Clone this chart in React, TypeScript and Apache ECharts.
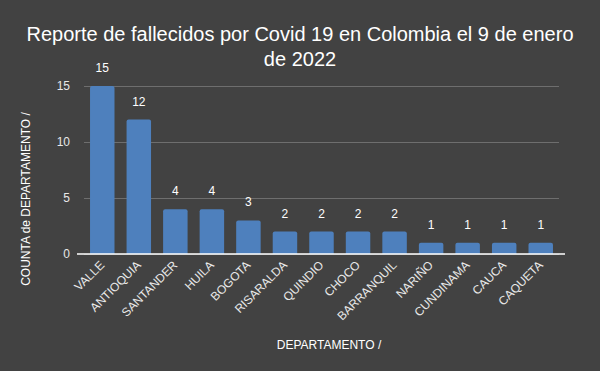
import React, { useEffect, useRef } from "react";
import * as echarts from "echarts";

const categories = ["VALLE", "ANTIOQUIA", "SANTANDER", "HUILA", "BOGOTA", "RISARALDA", "QUINDIO", "CHOCO", "BARRANQUIL", "NARIÑO", "CUNDINAMA", "CAUCA", "CAQUETA"];
const values = [15, 12, 4, 4, 3, 2, 2, 2, 2, 1, 1, 1, 1];
const yTitle = "COUNTA de DEPARTAMENTO /";
const xTitle = "DEPARTAMENTO /";

const FONT = "'Liberation Sans', Arial, sans-serif";

export default function App() {
  const ref = useRef<HTMLDivElement>(null);
  useEffect(() => {
    const chart = echarts.init(ref.current!, null, { renderer: "svg" });
    chart.setOption({
      animation: false,
      backgroundColor: "#424242",
      title: {
        text: "Reporte de fallecidos por Covid 19 en Colombia el 9 de enero\nde 2022",
        left: "center",
        top: 16,
        textStyle: { color: "#ffffff", fontSize: 20, fontWeight: "normal", fontFamily: FONT, lineHeight: 25 },
      },
      grid: { left: 84, right: 41, top: 86, bottom: 117, containLabel: false },
      graphic: [
        {
          type: "line",
          shape: { x1: 77, y1: 254, x2: 565, y2: 254 },
          style: { stroke: "#ffffff", lineWidth: 1.5 },
          z: 10,
        },
        {
          type: "text",
          x: 26,
          y: 199,
          rotation: Math.PI / 2,
          style: { text: yTitle, fill: "#ffffff", fontSize: 12, fontFamily: FONT, textAlign: "center", textVerticalAlign: "middle" },
        },
        {
          type: "text",
          x: 329,
          y: 345,
          style: { text: xTitle, fill: "#ffffff", fontSize: 12, fontFamily: FONT, textAlign: "center", textVerticalAlign: "middle" },
        },
      ],
      xAxis: {
        type: "category",
        data: categories,
        axisLine: { show: false },
        axisTick: { show: false },
        axisLabel: { rotate: 45, color: "#e8e8e8", fontSize: 12, fontFamily: FONT, margin: 9, interval: 0 },
      },
      yAxis: {
        type: "value",
        min: 0,
        max: 15,
        interval: 5,
        axisLine: { show: false },
        axisTick: { show: false },
        axisLabel: { color: "#e8e8e8", fontSize: 12, fontFamily: FONT, margin: 14 },
        splitLine: { lineStyle: { color: "#6e6e6e", width: 1 } },
      },
      series: [
        {
          type: "bar",
          data: values,
          barCategoryGap: "33%",
          itemStyle: { color: "#4e80bd", borderRadius: [2, 2, 0, 0] },
          label: { show: true, position: "top", distance: 12, color: "#ffffff", fontSize: 12, fontFamily: FONT },
        },
      ],
    });
    return () => chart.dispose();
  }, []);
  return <div ref={ref} style={{ width: 600, height: 371, position: "absolute", left: 0, top: 0 }} />;
}
